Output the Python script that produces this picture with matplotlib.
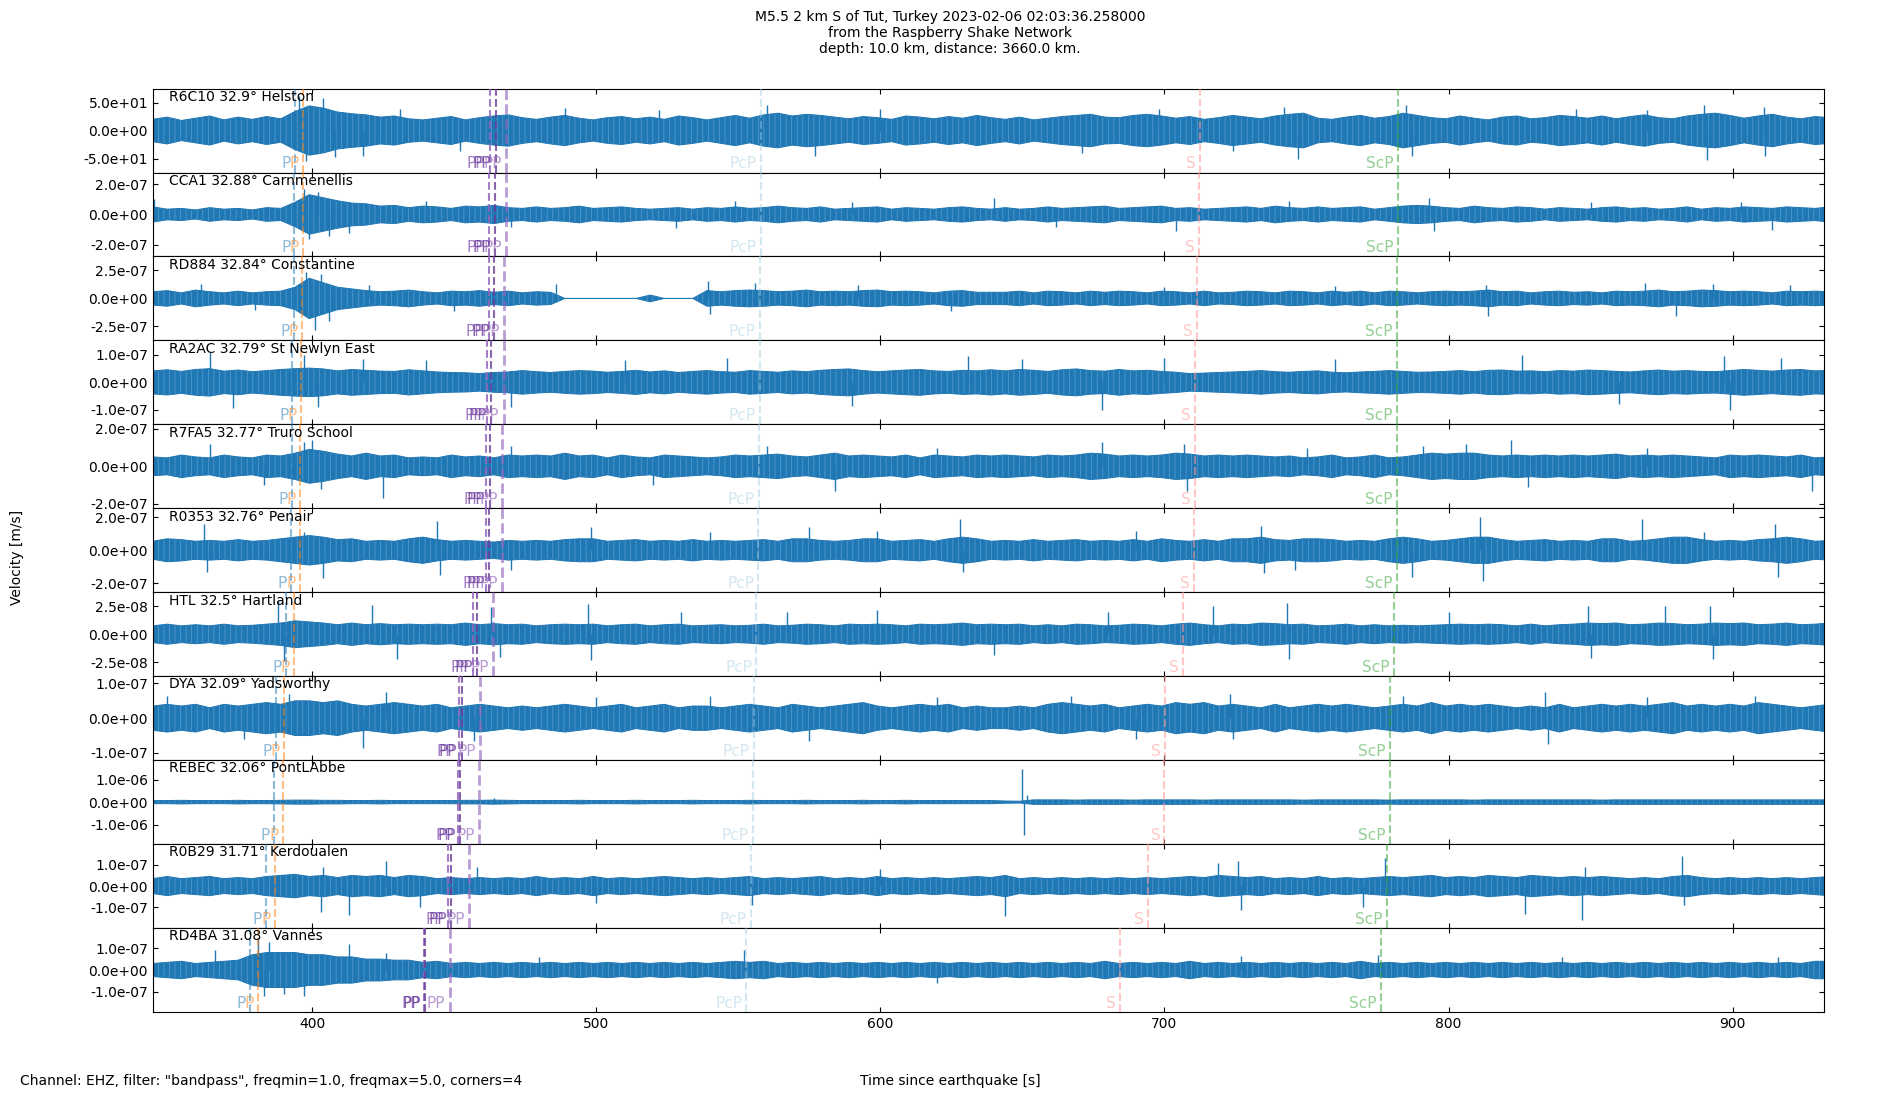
import numpy as np
import matplotlib
matplotlib.use("Agg")
import matplotlib.pyplot as plt
from matplotlib.ticker import FormatStrFormatter
from matplotlib.transforms import offset_copy

plt.rcParams["hatch.linewidth"] = 0.5

# ---------------- data ----------------
title = ("M5.5 2 km S of Tut, Turkey 2023-02-06 02:03:36.258000\n"
         "from the Raspberry Shake Network\n"
         "depth: 10.0 km, distance: 3660.0 km.")
stations = ["R6C10 32.9° Helston", "CCA1 32.88° Carnmenellis", "RD884 32.84° Constantine",
            "RA2AC 32.79° St Newlyn East", "R7FA5 32.77° Truro School", "R0353 32.76° Penair",
            "HTL 32.5° Hartland", "DYA 32.09° Yadsworthy", "REBEC 32.06° PontLAbbe",
            "R0B29 31.71° Kerdoualen", "RD4BA 31.08° Vannes"]

t_start = 344.0      # s, first envelope reading
t_step = 5.0         # s, spacing of envelope readings
units = [1.0, 1e-8, 1e-8, 1e-9, 1e-8, 1e-8, 1e-9, 1e-8, 1e-8, 1e-8, 1e-8]

# amplitude envelopes (in the unit above)
env_R6C10 = [20,24,18,22,26,19,24,20,25,21, 34,44,40,33,30,28,24,26,21,19, 22,25,19,23,26,28,23,20,24,27,
             22,19,23,25,21,24,20,26,23,19, 23,27,22,28,31,26,29,27,24,21, 25,23,20,26,24,21,25,22,27,23,
             20,24,19,22,25,27,29,24,23,27, 29,26,22,25,20,23,27,24,21,26, 29,31,22,20,24,27,22,25,31,27,
             23,21,26,22,19,24,26,21,23,27, 25,22,26,21,25,28,23,21,26,29, 31,27,22,26,29,24,21,25,23]
env_CCA1 = [5,3.5,4,3,4.5,3.5,4,3,4.5,4, 8,13,11,9,7.5,7,5.5,6,4.5,5.5, 5,4,5.5,5,6,4.5,4,5,4,4.5,
            5.5,4,4.5,5,4,3.5,4,4.5,3.5,4.5, 4,5,4,4.5,5.5,4.5,4,5,3.5,4, 4.5,5,3.5,4.5,4,3.5,4.5,5,4,3.5,
            4.5,3.5,4,5,4,4.5,5,5.5,4,4.5, 5,5.5,4,4.5,3.5,4,4.5,5,4,5.5, 4.5,4,5,4,4.5,5,3.5,4.5,5.5,6,
            5.5,4.5,4,5.5,4.5,4,5,4.5,3.5,4.5, 4,3.5,4.5,5,4,4.5,3.5,4,5,3.5, 4.5,4,5,4.5,4,5,4.5,4,5]
env_RD884 = [6,7,5,7.5,6,5,6.5,5,6,6.5, 10,18,14,10,8.5,7,6,6.5,7.5,6, 5,6.5,6,7,5.5,6.5,5,6,5.5,0,
             0,0,0,0,0,3,0,0,0,7, 6,7,7.5,7,6,6.5,7.5,6,6.5,6, 7,7.5,6,6.5,6,5,6.5,7,5.5,5.5,
             5.5,6.5,5,6.5,6,5,6.5,5.5,6.5,6, 5,6.5,6,5,6.5,5,5.5,6.5,6,5, 6.5,6,5,6.5,5.5,6.5,5,6.5,6,5,
             6,6.5,6,6.5,7.5,6,6.5,5,6,6.5, 5.5,6,5,6.5,6,6.5,7.5,6,6.5,7.5, 7,6,6.5,6,5,6.5,6,6.5,6]
env_RA2AC = [42,46,40,47,50,41,45,39,43,47, 50,52,49,42,47,44,41,40,46,42, 38,36,35,32,36,38,43,39,36,40,
             43,41,37,40,44,38,42,36,40,43, 39,37,43,40,37,42,39,44,47,49, 43,39,42,45,47,42,40,44,42,46,
             42,47,44,40,46,49,43,41,47,42, 44,40,37,32,34,36,38,40,43,39, 37,40,42,37,35,38,40,43,40,37,
             38,40,43,39,44,45,41,42,39,43, 41,45,43,40,38,42,45,41,43,40, 39,43,47,44,41,45,47,42,44]
env_R7FA5 = [5,4.5,6,5,4.5,6,5,4.5,6,5.5, 7,9,8,6.5,5.5,7,5.5,6,4.5,5, 4.5,6,5,5.5,4.5,6,5.5,6,5.5,7,
             5.5,6,4.5,6,5,4.5,6,5.5,5,4.5, 5,6,5.5,6,6.5,5.5,5,6,7,5.5, 6,5.5,5,6,4.5,6,5.5,5,6,5.5,
             6,5.5,5,6,5.5,6,7,6.5,5.5,6, 5.5,6,7,6.5,5.5,6,5.5,6,5.5,5, 5.5,4.5,5,6,4.5,5,6,4.5,5,6,
             7,6.5,7,7,6,5.5,6,5.5,6,5.5, 6,5.5,6,6.5,5.5,6,5.5,6,5.5,5, 4.5,6,5.5,6,5.5,5,6,4.5,5]
env_R0353 = [5.5,7,6.5,5.5,6,5.5,6.5,5.5,6,7, 8,9,8,6.5,7,5.5,6,5.5,7,8, 6.5,5.5,6,5.5,5,6,5.5,6,5.5,6.5,
             7,7,5.5,6,6.5,5.5,6,5.5,6.5,5.5, 6,5.5,6,6.5,5.5,7,7,6,5.5,6, 7,7,5.5,6,6.5,5.5,7,8,7,5.5,
             6,5.5,6.5,5.5,6,6.5,5.5,6,5.5,6.5, 5.5,7,6,5.5,6.5,5.5,7,7,8,6.5, 6,7,7,6.5,5.5,6,5.5,7,8,7,
             5.5,6,7,8,8,6.5,5.5,6,6.5,5.5, 6,5.5,7,7,5.5,6,7,8,8,6.5, 5.5,6,5.5,6.5,7,8,7,5.5,6]
env_HTL = [7.5,9,7.5,8.5,7.5,9,7.5,8,9,10, 12,11,10,8.5,10,8.5,9.5,8.5,9,8.5, 9,8.5,10,8.5,9.5,8.5,9,7.5,8.5,9,
           8.5,9,7.5,8.5,9,7.5,8.5,9,7.5,8, 8.5,7.5,8,9,7.5,8,9,8.5,7.5,9, 8.5,9,8.5,7.5,9,8.5,9,10,8.5,9,
           8.5,9,7.5,8.5,7.5,9,8.5,7.5,8,9, 8.5,7.5,9,10,8.5,7.5,9,8.5,10,9.5, 8.5,9,7.5,8,9,7.5,8.5,7.5,8,7.5,
           8,8.5,9,8.5,9,8.5,7.5,9,7.5,8.5, 9,10,9.5,10,8.5,9,10,9.5,8.5,9, 10,9.5,10,8.5,9,10,8.5,9,10]
env_DYA = [3.5,4,3.5,4,3,4,3.5,4,4.5,4, 5,5,4.5,5,4,3.5,4,4.5,4,3.5, 4,3,3.5,4,3.5,3,3.5,3,3.5,4,
           3.5,3,3.5,4,3,3.5,4,3,3.5,3.5, 3,3.5,4,3.5,3,4,3.5,3,3.5,4, 4.5,3.5,3,3.5,4,3.5,4,3,3.5,3,
           3,3.5,3,4,4.5,4,3.5,4,3,3.5, 4,3.5,4.5,4,4.5,3.5,4,3.5,3,4, 3,3.5,4,3.5,4,3.5,3,3.5,4,3.5,
           4.5,3.5,4,3.5,4,3.5,3,3.5,3,4, 3,3.5,4,3.5,4,3.5,4,4.5,3.5,4, 3.5,4,3.5,4.5,4,3.5,3,3.5,4]
env_REBEC = [7,7,8,7,7,7,8,7,7,8, 9,9,8,8,7,7,8,7,7,7, 7,7,8,8,9,8,7,7,7,7,
             8,7,7,7,8,7,7,7,8,7, 7,7,8,7,7,7,8,7,7,7, 8,7,7,8,7,7,7,7,7,7,
             5,4,10,10,10,9,10,10,10,9, 10,10,10,10,9,10,10,10,10,10, 10,9,10,10,10,10,10,9,10,10,
             10,10,10,9,10,10,10,10,10,10, 10,10,9,10,10,10,10,10,10,10, 10,10,10,10,10,10,10,10,10]
env_R0B29 = [3.5,4.5,3.5,4,4.5,3.5,4,3.5,4.5,5, 5.5,4.5,5,4,5,4.5,5,4,5,4.5, 3.5,4,3.5,4,3.5,4,3.5,4.5,3.5,4,
             3.5,4.5,3.5,4,3.5,4,4.5,4,3.5,4, 3.5,4,4.5,3.5,4,3.5,4,4.5,3.5,4, 3.5,4.5,3.5,4,3.5,4,3.5,4,4.5,4,
             5,3.5,4,3.5,4,3.5,4,3.5,4,3.5, 4,3.5,4,4.5,4,5,4.5,4,4.5,3.5, 4,3.5,4.5,3.5,4,3.5,4,4.5,4,4.5,
             5,4,4.5,4,5,4.5,4,5,4.5,4, 4.5,4,4.5,4,3.5,4,3.5,4.5,5,4, 3.5,4,3.5,4,3.5,4,3.5,4,4.5]
env_RD4BA = [3,3.5,4,3,3.5,4,4.5,7,8,8, 8,7,7,6,6,5,5,4.5,4.5,3.5, 4,3,3.5,3,3.5,3,3.5,3,3.5,3,
             3.5,3,3.5,3,3.5,3,3.5,3,3.5,3, 3.5,4,3.5,4,3,3.5,3,3.5,3,3.5, 3,3.5,3,3.5,3,3.5,3,3.5,3,3.5,
             3,3.5,3,3.5,3,3.5,3,4,3,3.5, 3,3.5,3,4,3,3.5,3,3.5,3,3.5, 3,3.5,3,3.5,3,4,3,3.5,3,3.5,
             3,3.5,3,3.5,3,3.5,3,3.5,3,3.5, 3,3.5,3,3.5,3,3.5,3,3.5,3,3.5, 3,3.5,3,3.5,3,3.5,3,4,4]

# individual large swings: (time s, value in unit)
spk_R6C10 = [(395.5, 62), (398, -55), (404, 58), (408, -48), (418, -45), (431, 38), (452, -36), (489, 40),
             (522, 36), (560, 45), (577, -45), (600, 38), (671, -40), (698, 38), (724, -36), (742, 42),
             (747, -50), (785, 45), (787, -45), (845, 38), (870, 36), (890, 45), (891, -52), (911, 42), (911.5, -45)]
spk_CCA1 = [(344.5, 10), (397, 17), (399, -16), (402, 15), (406, -14), (413, -12), (440, 9), (470, -8),
            (528, -9), (549, 9), (590, 8), (640, 11), (662, -8), (704, -11), (744, 9), (793, 11), (795, -11),
            (850, 8), (903, 8), (914, -10)]
spk_RD884 = [(361, 13), (380, -10), (398, 24), (401, -28), (403, 22), (406, -20), (420, 12), (450, -11),
             (486, 13), (539.5, 16), (540, -14), (556, 14), (592, 12), (625, -11), (700, 10), (760, 11),
             (813, 12), (814, -16), (869, 14), (880, -16), (893, 13), (920, 12)]
spk_RA2AC = [(364, 110), (372, -95), (397, 100), (402, -90), (418, 85), (440, 80), (470, -88), (510, 80),
             (546, 90), (590, -85), (631, 95), (650, 85), (678, -100), (700, 90), (760, 85), (826, 100),
             (860, -80), (897, 95), (899, -100), (917, 90)]
spk_R7FA5 = [(364, 12), (383, -10), (397, 13), (400, 14), (403, -12), (425, -17), (470, 11), (520, -10),
             (560, 11), (584, -13), (620, 10), (678, 13), (707, 12), (708, -13), (750, 10), (791, 11),
             (806, 12), (822, 14), (828, -11), (870, 10), (928, -13)]
spk_R0353 = [(362, 16), (363, -13), (397, 11), (404, -17), (444, 18), (445, -15), (470, -12), (498, 14),
             (540, 11), (575, 14), (599, 12), (628, 19), (629, -13), (690, 12), (734, 15), (735, -14),
             (746, -12), (787, -16), (811, 20), (812, -19), (868, 19), (890, 11), (915, 16), (916, -16)]
spk_HTL = [(388, 30), (390, -24), (421, 26), (430, -22), (463, 24), (466, -20), (497, 27), (498, -23),
           (530, 20), (567, 20), (599, 22), (640, -19), (680, 20), (717, 25), (743, 28), (744, -22),
           (800, 20), (849, 25), (850, -21), (876, 25), (892, 25), (893, -22)]
spk_DYA = [(349, 6.5), (376, -6), (392, 7), (418, -8.5), (426, 7.5), (457, -6.5), (500, 6), (540, 6.5),
           (575, -6.5), (620, 6), (667, 6.5), (690, -6), (723, 7), (724, -6), (784, 6.5), (834, 7.5),
           (835, -7.5), (870, 6), (908, 6.5)]
spk_REBEC = [(464, 20), (650, 145), (650.6, -147), (651.5, 30)]
spk_R0B29 = [(403, -12), (404, 9), (413, -13.5), (426, 12), (438, -10), (458, 9), (500, -8), (555, -9),
             (600, 8), (644, -14), (719, 11), (726, 12), (727, -11), (770, -10), (777.5, 13), (827, -13),
             (847, -16), (848, 9), (882, 14), (883, -9)]
spk_RD4BA = [(366, 9), (381, 14), (383, -12), (385, 13), (390, -11), (397, -12), (413, 12), (426, 8),
             (480, 6), (552, 9), (620, -6), (727, 6.5), (775, 7), (840, 6), (916, 6)]

envelopes = [env_R6C10, env_CCA1, env_RD884, env_RA2AC, env_R7FA5, env_R0353,
             env_HTL, env_DYA, env_REBEC, env_R0B29, env_RD4BA]
spikes = [spk_R6C10, spk_CCA1, spk_RD884, spk_RA2AC, spk_R7FA5, spk_R0353,
          spk_HTL, spk_DYA, spk_REBEC, spk_R0B29, spk_RD4BA]

ylims = [75, 2.76e-7, 3.75e-7, 1.53e-7, 2.23e-7, 2.56e-7, 3.75e-8, 1.21e-7, 1.86e-6, 1.97e-7, 1.92e-7]
ytick_vals = [50, 2e-7, 2.5e-7, 1e-7, 2e-7, 2e-7, 2.5e-8, 1e-7, 1e-6, 1e-7, 1e-7]

# phase arrival times (s) per station
phase_names = ["P", "P", "PP", "PP", "PP", "PcP", "S", "ScP"]
phase_times = [
    [393.9, 393.8, 393.5, 393.1, 392.8, 392.7, 390.7, 387.2, 386.7, 383.9, 378.3],
    [396.8, 396.7, 396.4, 396.0, 395.8, 395.7, 393.5, 390.1, 389.9, 386.8, 380.9],
    [462.5, 462.4, 462.1, 461.5, 461.3, 461.1, 456.8, 451.6, 451.4, 447.8, 439.5],
    [464.6, 464.5, 464.2, 462.9, 462.5, 462.3, 458.1, 452.6, 452.2, 448.8, 439.9],
    [468.4, 468.3, 467.6, 467.4, 467.0, 467.0, 463.8, 459.2, 458.7, 455.4, 448.4],
    [557.9, 557.9, 557.7, 557.5, 557.3, 557.1, 556.4, 555.6, 555.2, 554.5, 552.9],
    [712.5, 712.1, 711.3, 710.9, 710.7, 710.5, 706.6, 700.2, 700.0, 694.3, 684.2],
    [782.1, 782.1, 781.9, 781.9, 781.9, 781.7, 780.7, 779.4, 779.4, 778.2, 776.2],
]
phase_colors = ["#1f77b4", "#ff7f0e", "#9467bd", "#6a3d9a", "#9467bd", "#9ecae1", "#ff9896", "#2ca02c"]
phase_alphas = [0.5, 0.5, 0.85, 0.8, 0.65, 0.45, 0.55, 0.5]
phase_lw = [1.5, 1.5, 1.5, 1.5, 2.0, 1.5, 1.5, 1.5]

xlim = (344.0, 932.0)
xticks = [400, 500, 600, 700, 800, 900]

# ---------------- plot ----------------
trace_color = "#1f77b4"
fig = plt.figure(figsize=(19, 11), dpi=100)
n = len(stations)
gs = fig.add_gridspec(n, 1, left=0.0805, right=0.9598, top=0.9195, bottom=0.08, hspace=0)
axes = [fig.add_subplot(gs[i, 0]) for i in range(n)]

for i, ax in enumerate(axes):
    env = np.asarray(envelopes[i], dtype=float) * units[i]
    t = t_start + t_step * np.arange(len(env))
    ax.fill_between(t, -env, env, facecolor=trace_color, edgecolor="#5e9fd1", hatch="|||",
                    linewidth=0, zorder=2)
    ax.plot(t, env, color=trace_color, lw=0.7, zorder=2)
    ax.plot(t, -env, color=trace_color, lw=0.7, zorder=2)
    st = np.array([s[0] for s in spikes[i]])
    sv = np.array([s[1] for s in spikes[i]]) * units[i]
    ax.vlines(st, 0, sv, color=trace_color, lw=1.0, zorder=2)

    lab_tr = offset_copy(ax.get_xaxis_transform(), fig=fig, x=-3, y=0, units="points")
    for k in range(len(phase_names)):
        tp = phase_times[k][i]
        ax.axvline(tp, color=phase_colors[k], ls="--", lw=phase_lw[k], alpha=phase_alphas[k], zorder=3)
        ax.text(tp, 0.015, phase_names[k], transform=lab_tr, ha="right", va="bottom",
                fontsize=11, color=phase_colors[k], alpha=phase_alphas[k], zorder=4)

    ax.text(0.0095, 0.985, stations[i], transform=ax.transAxes, ha="left", va="top", fontsize=10, zorder=5)
    ax.set_xlim(*xlim)
    ax.set_ylim(-ylims[i], ylims[i])
    ax.set_yticks([-ytick_vals[i], 0, ytick_vals[i]])
    ax.yaxis.set_major_formatter(FormatStrFormatter("%.1e"))
    ax.set_xticks(xticks)
    ax.tick_params(direction="in", top=True, right=True, labelsize=10)
    if i < n - 1:
        ax.tick_params(labelbottom=False)

fig.text(0.5, 0.991, title, ha="center", va="top", fontsize=10, linespacing=1.2)
fig.text(0.009, 0.493, "Velocity [m/s]", rotation=90, ha="center", va="center", fontsize=10)
fig.text(0.0105, 0.0173, 'Channel: EHZ, filter: "bandpass", freqmin=1.0, freqmax=5.0, corners=4',
         ha="left", va="center", fontsize=10)
fig.text(0.5, 0.0173, "Time since earthquake [s]", ha="center", va="center", fontsize=10)

fig.savefig("out.png", dpi=100)
